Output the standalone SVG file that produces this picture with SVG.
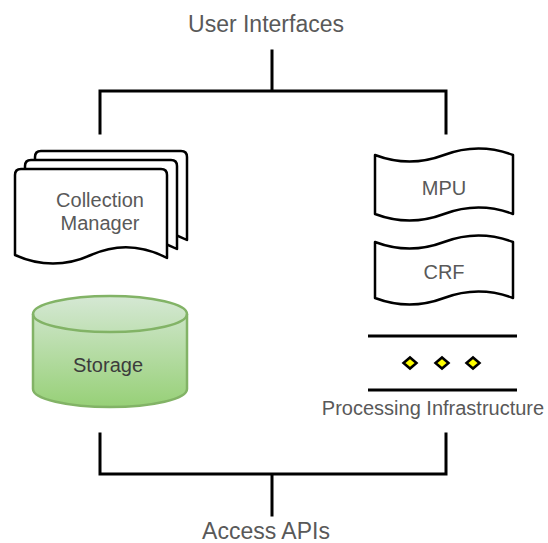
<svg xmlns="http://www.w3.org/2000/svg" width="548" height="543" viewBox="0 0 548 543">
  <style>
    .lbl { font-family: "Liberation Sans", Arial, Helvetica, sans-serif; fill: #595959; text-anchor: middle; }
    .big { font-size: 23px; }
    .mid { font-size: 20px; }
    .shape { fill: #ffffff; stroke: #000000; stroke-width: 2.5; stroke-linejoin: round; }
    .wire { fill: none; stroke: #000000; stroke-width: 3; stroke-linecap: square; stroke-linejoin: miter; }
    .rule { stroke: #000000; stroke-width: 3; }
    .dot { fill: #ffff00; stroke: #000000; stroke-width: 2.5; stroke-linejoin: miter; }
  </style>
  <defs>
    <linearGradient id="storageFill" x1="0" y1="0" x2="0" y2="1">
      <stop offset="0" stop-color="#d5e8d4"/>
      <stop offset="1" stop-color="#97d077"/>
    </linearGradient>
    <!-- document sheet with a wavy lower edge -->
    <path id="sheet" d="M15,175 Q15,169 21,169 H161 Q167,169 167,175 V258 Q129,238 91,255 Q53,272 15,255 Z"/>
    <!-- small yellow diamond -->
    <polygon id="gem" class="dot" points="-6.5,0 0,-5.5 6.5,0 0,5.5"/>
  </defs>

  <rect width="548" height="543" fill="#ffffff"/>

  <!-- connectors -->
  <g id="connectors">
    <path class="wire" d="M272,51 V91 M100,133 V91 H446 V133"/>
    <path class="wire" d="M100,434 V474 H446 V434 M272,474 V515"/>
  </g>

  <g id="user-interfaces">
    <text class="lbl big" x="266" y="32">User Interfaces</text>
  </g>

  <g id="access-apis">
    <text class="lbl big" x="266" y="539">Access APIs</text>
  </g>

  <g id="collection-manager">
    <use href="#sheet" class="shape" transform="translate(20,-18)"/>
    <use href="#sheet" class="shape" transform="translate(10,-9)"/>
    <use href="#sheet" class="shape"/>
    <text class="lbl mid" x="100" y="207">Collection</text>
    <text class="lbl mid" x="100" y="230">Manager</text>
  </g>

  <g id="storage">
    <path d="M33,314 A77,18 0 0 1 187,314 V389 A77,18 0 0 1 33,389 Z" fill="url(#storageFill)" stroke="#82b366" stroke-width="2.5"/>
    <path d="M33,314 A77,18 0 0 0 187,314" fill="none" stroke="#82b366" stroke-width="2.5"/>
    <text class="lbl mid" x="108" y="372" style="fill:#3c3c3c">Storage</text>
  </g>

  <g id="mpu">
    <path class="shape" d="M375,155 Q409.5,168 444,155 Q478.5,142 513,155 V214 Q478.5,201 444,214 Q409.5,227 375,214 Z"/>
    <text class="lbl mid" x="444" y="195">MPU</text>
  </g>

  <g id="crf">
    <path class="shape" d="M375,242 Q409.5,255 444,242 Q478.5,229 513,242 V298 Q478.5,285 444,298 Q409.5,311 375,298 Z"/>
    <text class="lbl mid" x="444" y="279">CRF</text>
  </g>

  <g id="processing-infrastructure">
    <line class="rule" x1="368" y1="336" x2="517" y2="336"/>
    <line class="rule" x1="368" y1="390" x2="517" y2="390"/>
    <use href="#gem" x="410" y="363"/>
    <use href="#gem" x="442" y="363"/>
    <use href="#gem" x="473" y="363"/>
    <text class="lbl mid" x="433" y="415">Processing Infrastructure</text>
  </g>
</svg>
